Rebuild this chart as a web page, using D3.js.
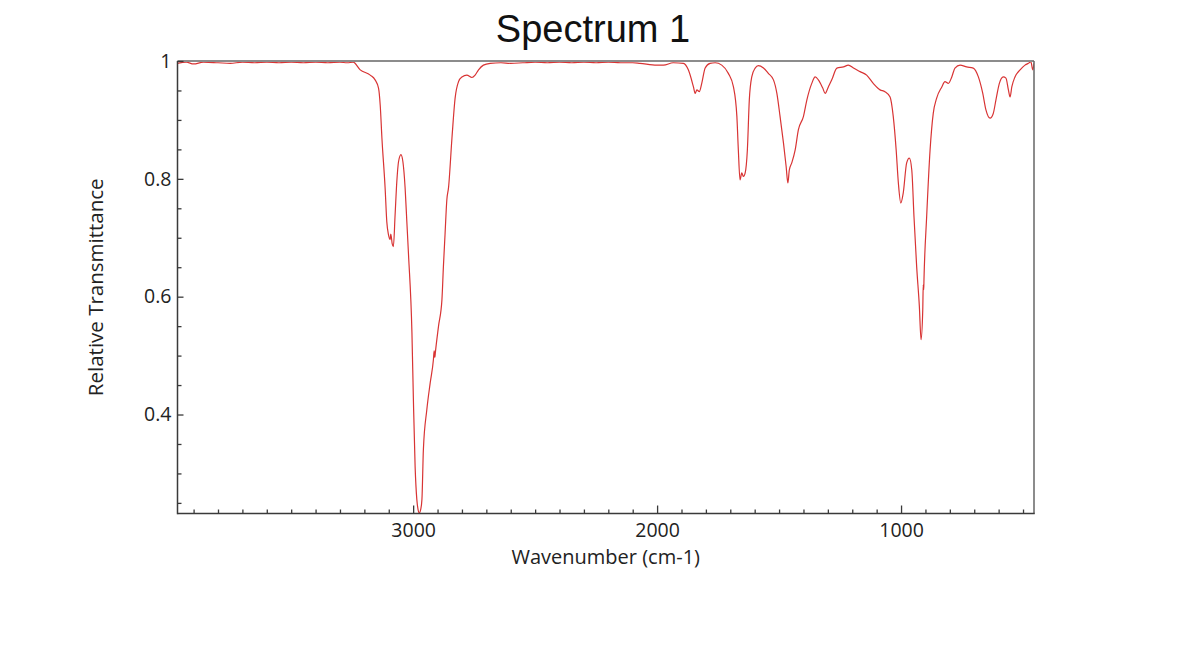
<!DOCTYPE html>
<html>
<head>
<meta charset="utf-8">
<script src="https://cdn.jsdelivr.net/npm/d3@7"></script>
<style>
html,body{margin:0;padding:0;background:#fff;}
svg{display:block;}
</style>
</head>
<body>
<svg id="chart" width="1200" height="671"></svg>
<script>
// ---- data ----
const title = "Spectrum 1";
const xLabel = "Wavenumber (cm-1)";
const yLabel = "Relative Transmittance";
const xDomain = [3966, 455];
const yDomain = [0.232, 1.0];
const xMajorTicks = [3000, 2000, 1000];
const yMajorTicks = [0.4, 0.6, 0.8, 1];
const yTickLabels = ["0.4", "0.6", "0.8", "1"];

const wavenumber = [
  3966, 3930, 3900, 3860, 3800, 3750, 3700, 3650, 3600, 3550, 3500, 3450, 3400, 3350, 3300, 3270, 3246,
  3217, 3176, 3156, 3142, 3135, 3128, 3115, 3108, 3101, 3094, 3092, 3089, 3086, 3081,
  3074, 3067, 3060, 3050, 3042, 3033, 3026, 3019, 3005, 2999, 2992, 2985, 2980, 2975,
  2969, 2964, 2958, 2944, 2930, 2917, 2914, 2911, 2909, 2896, 2882, 2876, 2869, 2862,
  2855, 2841, 2828, 2814, 2800, 2780, 2759, 2746, 2732, 2712, 2684,
  2640, 2600, 2550, 2500, 2450, 2400, 2350, 2300, 2250, 2200, 2150, 2100, 2070,
  2001, 1974, 1934, 1892, 1872, 1851, 1844, 1837, 1827, 1817, 1803, 1783, 1762,
  1735, 1708, 1687, 1673, 1667, 1660, 1653, 1646, 1639, 1630, 1622, 1612, 1598, 1585,
  1564, 1544, 1523, 1509, 1496, 1482, 1471, 1464, 1458, 1448, 1434, 1421, 1400, 1386,
  1366, 1352, 1339, 1321, 1311, 1298, 1284, 1263, 1236, 1216, 1195, 1168, 1141, 1114,
  1086, 1066, 1045, 1032, 1020, 1011, 1001, 991, 977, 966, 956, 947, 936, 925, 918,
  911, 909, 907, 906, 895, 881, 868, 854, 833, 820, 806, 792, 779, 758, 731, 704,
  683, 665, 652, 635, 622, 611, 597, 581, 570, 560, 553, 546, 533, 512, 492, 478,
  468, 460, 455
];
const transmittance = [
  0.996, 0.998, 0.995, 0.998, 0.997, 0.996, 0.998, 0.997, 0.998, 0.997, 0.998, 0.997, 0.998, 0.997, 0.998, 0.997, 0.998,
  0.985, 0.976, 0.968, 0.954, 0.925, 0.869, 0.785, 0.727, 0.705, 0.697, 0.706, 0.700, 0.690, 0.685,
  0.739, 0.795, 0.829, 0.841, 0.829, 0.785, 0.728, 0.671, 0.539, 0.425, 0.312, 0.256, 0.239, 0.233,
  0.239, 0.256, 0.341, 0.408, 0.454, 0.493, 0.508, 0.497, 0.505, 0.550, 0.595, 0.651, 0.708, 0.764,
  0.785, 0.869, 0.937, 0.965, 0.973, 0.976, 0.972, 0.976, 0.985, 0.993, 0.996,
  0.997, 0.996, 0.997, 0.998, 0.997, 0.998, 0.997, 0.998, 0.997, 0.998, 0.997, 0.997, 0.996,
  0.993, 0.993, 0.997, 0.996, 0.985, 0.956, 0.945, 0.951, 0.948, 0.962, 0.988, 0.996, 0.997,
  0.993, 0.979, 0.956, 0.906, 0.849, 0.798, 0.810, 0.804, 0.810, 0.849, 0.934, 0.973, 0.988, 0.992,
  0.988, 0.979, 0.968, 0.945, 0.906, 0.861, 0.821, 0.793, 0.815, 0.827, 0.849, 0.883, 0.906, 0.934,
  0.962, 0.973, 0.968, 0.954, 0.945, 0.956, 0.968, 0.988, 0.990, 0.993, 0.988, 0.982, 0.976, 0.962,
  0.951, 0.948, 0.939, 0.906, 0.849, 0.793, 0.759, 0.776, 0.827, 0.835, 0.815, 0.736, 0.651, 0.584, 0.527,
  0.578, 0.620, 0.612, 0.629, 0.736, 0.849, 0.911, 0.937, 0.956, 0.965, 0.962, 0.973, 0.988, 0.993, 0.990, 0.988,
  0.973, 0.945, 0.917, 0.903, 0.911, 0.934, 0.962, 0.973, 0.971, 0.951, 0.939, 0.956, 0.973, 0.985, 0.993, 0.996,
  0.999, 0.985, 0.996
];

// ---- layout ----
const svg = d3.select("#chart");
const m = {left: 177.5, right: 1034, top: 61, bottom: 513.5};
const x = d3.scaleLinear().domain(xDomain).range([m.left, m.right]);
const y = d3.scaleLinear().domain(yDomain).range([m.bottom, m.top]);
const font = "'Open Sans', 'DejaVu Sans', sans-serif";
const axisColor = "#3a3a3a";

// clip
svg.append("defs").append("clipPath").attr("id", "clip")
  .append("rect").attr("x", m.left).attr("y", m.top - 1)
  .attr("width", m.right - m.left).attr("height", m.bottom - m.top + 1);

// spectrum
const pts = wavenumber.map((w, i) => [w, transmittance[i]]);
svg.append("path")
  .datum(pts)
  .attr("clip-path", "url(#clip)")
  .attr("fill", "none")
  .attr("stroke", "#d83434")
  .attr("stroke-width", 1.2)
  .attr("stroke-linejoin", "round")
  .attr("d", d3.line().x(d => x(d[0])).y(d => y(d[1])).curve(d3.curveMonotoneX));

// frame: top (gray) and right
svg.append("line").attr("x1", m.left).attr("x2", m.right).attr("y1", y(1)).attr("y2", y(1))
  .attr("stroke", "#8c8c8c").attr("stroke-width", 2);
svg.append("line").attr("x1", m.right).attr("x2", m.right).attr("y1", m.top).attr("y2", m.bottom)
  .attr("stroke", "#666").attr("stroke-width", 1.5);

// x axis (ticks inward)
const xMinor = d3.range(500, 4000, 100).filter(v => v % 1000 !== 0 && v <= xDomain[0] && v >= xDomain[1]);
const xAxisG = svg.append("g").attr("transform", `translate(0,${m.bottom})`);
xAxisG.call(d3.axisBottom(x).tickValues(xMinor).tickSize(-4).tickFormat(""))
  .call(g => g.select(".domain").remove());
xAxisG.append("g").call(d3.axisBottom(x).tickValues(xMajorTicks).tickSize(-8).tickFormat(d3.format("d")))
  .call(g => g.select(".domain").remove())
  .call(g => g.selectAll("text").attr("y", 10).attr("dy", "0.71em")
      .style("font-family", font).style("font-size", "19.5px").attr("fill", "#222"));
xAxisG.selectAll("line").attr("stroke", axisColor).attr("stroke-width", 1.3);
svg.append("line").attr("x1", m.left).attr("x2", m.right + 0.75).attr("y1", m.bottom).attr("y2", m.bottom)
  .attr("stroke", axisColor).attr("stroke-width", 1.5);

// y axis (ticks inward)
const yMinor = d3.range(0.25, 1.0, 0.05).map(v => +v.toFixed(2)).filter(v => !yMajorTicks.some(t => Math.abs(t - v) < 1e-6));
const yAxisG = svg.append("g").attr("transform", `translate(${m.left},0)`);
yAxisG.call(d3.axisLeft(y).tickValues(yMinor).tickSize(-4).tickFormat(""))
  .call(g => g.select(".domain").remove());
yAxisG.append("g").call(d3.axisLeft(y).tickValues(yMajorTicks).tickSize(-6).tickFormat((d, i) => yTickLabels[i]))
  .call(g => g.select(".domain").remove())
  .call(g => g.selectAll("text").attr("x", -6)
      .style("font-family", font).style("font-size", "19.5px").attr("fill", "#222"));
yAxisG.selectAll("line").attr("stroke", axisColor).attr("stroke-width", 1.3);
svg.append("line").attr("x1", m.left).attr("x2", m.left).attr("y1", m.top).attr("y2", m.bottom + 0.75)
  .attr("stroke", axisColor).attr("stroke-width", 1.5);

// labels
svg.append("text").attr("x", (m.left + m.right) / 2).attr("y", 563.5)
  .attr("text-anchor", "middle").style("font-family", font).style("font-size", "20px")
  .attr("fill", "#222").text(xLabel);
svg.append("text").attr("transform", `translate(103,${(m.top + m.bottom) / 2}) rotate(-90)`)
  .attr("text-anchor", "middle").style("font-family", font).style("font-size", "20.5px")
  .attr("fill", "#222").text(yLabel);
svg.append("text").attr("x", 593).attr("y", 41.5)
  .attr("text-anchor", "middle").style("font-family", "'Liberation Sans', Arial, sans-serif")
  .style("font-size", "38px").attr("fill", "#111").text(title);
</script>
</body>
</html>
